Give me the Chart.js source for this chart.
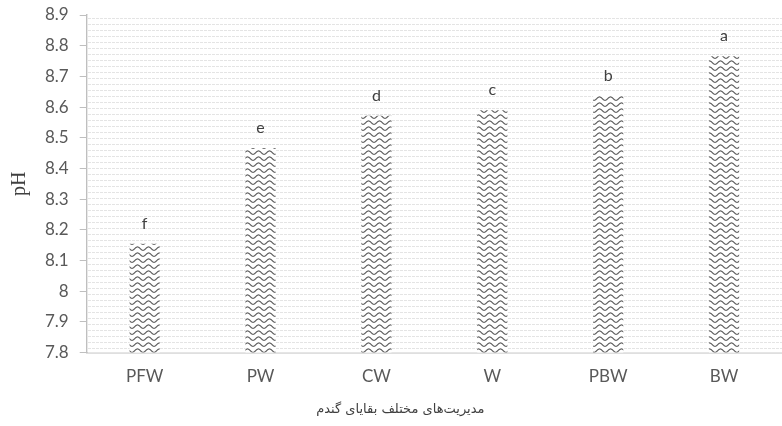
<!DOCTYPE html>
<html><head><meta charset="utf-8">
<script src="https://cdn.jsdelivr.net/npm/chart.js@4"></script>
<style>html,body{margin:0;padding:0;background:#fff}#wrap{width:782px;height:426px}</style>
</head><body><div id="wrap"><canvas id="c" width="782" height="426"></canvas></div>
<script>
const categories = ["PFW","PW","CW","W","PBW","BW"];
const phValues = [8.155, 8.467, 8.572, 8.59, 8.636, 8.766];
const letters = ["f","e","d","c","b","a"];
const yTicks = [7.8,7.9,8,8.1,8.2,8.3,8.4,8.5,8.6,8.7,8.8,8.9];
const xTitle = "مدیریت‌های مختلف بقایای گندم";
const yTitle = "pH";

function wavePattern(){
  const p = document.createElement('canvas'); p.width = 11; p.height = 6;
  const g = p.getContext('2d');
  g.fillStyle = '#fff'; g.fillRect(0,0,11,6);
  g.strokeStyle = '#5a5a5a'; g.lineWidth = 1.2;
  g.beginPath();
  for (let x=0;x<=11;x+=0.5){ const y = 2.6 + 1.7*Math.cos(x/11*2*Math.PI); if(x===0) g.moveTo(x,y); else g.lineTo(x,y); }
  g.stroke();
  return document.getElementById('c').getContext('2d').createPattern(p,'repeat');
}
function bgPattern(){
  const p = document.createElement('canvas'); p.width = 4; p.height = 6;
  const g = p.getContext('2d');
  g.fillStyle = '#fff'; g.fillRect(0,0,4,6);
  g.fillStyle = '#e4e4e4'; g.fillRect(0,0,3,1);
  return document.getElementById('c').getContext('2d').createPattern(p,'repeat');
}
const bgPlugin = {
  id:'bg',
  beforeDatasetsDraw(chart){
    const {ctx, chartArea:a} = chart;
    ctx.save(); ctx.fillStyle = bgPattern(); ctx.fillRect(a.left+1,a.top,a.right-a.left-1,a.bottom-a.top); ctx.restore();
  }
};
const letterPlugin = {
  id:'letters',
  afterDatasetsDraw(chart){
    const {ctx} = chart; const meta = chart.getDatasetMeta(0);
    ctx.save(); ctx.fillStyle='#404040'; ctx.font='16px Lato, "DejaVu Sans", sans-serif'; ctx.textAlign='center'; ctx.textBaseline='bottom';
    meta.data.forEach((b,i)=>{ ctx.fillText(letters[i], b.x, b.y-12); });
    ctx.restore();
  }
};
const titlePlugin = {
  id:'xtitle',
  afterDraw(chart){
    const {ctx} = chart;
    ctx.save(); ctx.fillStyle='#404040'; ctx.font='13px "DejaVu Sans", sans-serif'; ctx.textAlign='center'; ctx.textBaseline='middle';
    ctx.fillText(xTitle, chart.width*0.512, chart.height-16);
    ctx.restore();
  }
};
const fam = 'Lato, "DejaVu Sans", sans-serif';
new Chart(document.getElementById('c'), {
  type:'bar',
  data:{labels:categories, datasets:[{data:phValues, backgroundColor:wavePattern(), borderWidth:0, categoryPercentage:1, barPercentage:0.26}]},
  options:{
    responsive:false, animation:false,
    layout:{padding:{top:0,right:0,left:4,bottom:33}},
    plugins:{legend:{display:false}, tooltip:{enabled:false}},
    scales:{
      x:{grid:{display:false}, border:{color:'#bfbfbf', width:1.5},
         ticks:{color:'#595959', font:{family:fam, size:17}, padding:6}},
      y:{min:7.8, max:8.9, afterBuildTicks(ax){ ax.ticks = yTicks.map(v=>({value:v})); },
         afterFit(s){ s.paddingTop = 15; },
         grid:{drawOnChartArea:false, tickLength:7, color:'#bfbfbf'}, border:{color:'#bfbfbf', width:1.5},
         ticks:{color:'#595959', font:{family:fam, size:17}, padding:11, callback:v=>String(Number(v.toFixed(1)))},
         title:{display:true, text:yTitle, color:'#404040', font:{family:'"Liberation Serif", serif', size:20}, padding:{bottom:2}}}
    }
  },
  plugins:[bgPlugin, letterPlugin, titlePlugin]
});
</script></body></html>
